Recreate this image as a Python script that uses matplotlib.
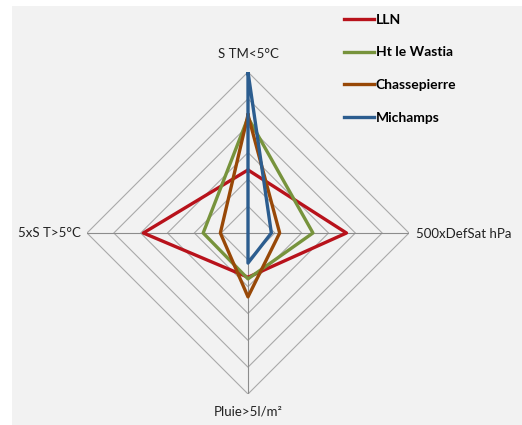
import numpy as np
import matplotlib
matplotlib.use("Agg")
import matplotlib.pyplot as plt
from matplotlib.patches import Rectangle

# categories, clockwise from the top
categories = ["S TM<5°C", "500xDefSat hPa", "Pluie>5l/m²", "5xS T>5°C"]

# (one ring = 1 unit, 6 rings)
lln = [2.35, 3.67, 1.65, 3.9]
wastia = [4.3, 2.42, 1.71, 1.67]
chassepierre = [4.4, 1.18, 2.38, 1.03]
michamps = [6.0, 0.87, 1.12, 0.0]

series_names = ["LLN", "Ht le Wastia", "Chassepierre", "Michamps"]
series_colors = ["#b8121b", "#77933c", "#984807", "#2c5d8f"]
rings = [1, 2, 3, 4, 5, 6]

plt.rcParams['font.family'] = ['Lato', 'DejaVu Sans']

W, H = 522, 425
fig = plt.figure(figsize=(W / 100, H / 100), dpi=100)
fig.patch.set_facecolor("white")
fig.patches.append(Rectangle((12 / W, 0), (W - 12) / W, (H - 6) / H,
                             transform=fig.transFigure, facecolor="#f2f2f2",
                             edgecolor="none", zorder=-5))

cx, cy, R = 248, 233, 161
ax = fig.add_axes([(cx - R) / W, (H - cy - R) / H, 2 * R / W, 2 * R / H],
                  projection="polar")
ax.set_zorder(2)
ax.set_facecolor("none")
ax.set_theta_zero_location("N")
ax.set_theta_direction(-1)
ax.set_ylim(0, 6)
ax.grid(False)
ax.spines["polar"].set_visible(False)
ax.set_xticks([])
ax.set_yticks([])

theta = np.arange(len(categories)) * 2 * np.pi / len(categories)
theta_closed = np.append(theta, theta[0])

# diamond grid and spokes
for r in rings:
    ax.plot(theta_closed, [r] * len(theta_closed), color="#a9a9a9", lw=0.8, zorder=1)
for t in theta:
    ax.plot([t, t], [0, rings[-1]], color="#8c8c8c", lw=0.8, zorder=1)

for name, vals, col in zip(series_names, [lln, wastia, chassepierre, michamps], series_colors):
    ax.plot(theta_closed, vals + vals[:1], color=col, lw=2.4, label=name, zorder=3)

# axis labels
lab = dict(fontsize=9.5, color="#222222")
fig.text(cx / W, 1 - 54 / H, categories[0], ha="center", va="center", **lab)
fig.text(416 / W, 1 - 234 / H, categories[1], ha="left", va="center", **lab)
fig.text(cx / W, 1 - 412 / H, categories[2], ha="center", va="center", **lab)
fig.text(81 / W, 1 - 233 / H, categories[3], ha="right", va="center", **lab)

fig.legend(loc="upper left", bbox_to_anchor=(338 / W, 1 - 8 / H), frameon=False,
           prop={"family": "Lato", "weight": "bold", "size": 10},
           handlelength=2.2, handletextpad=0.1, labelspacing=1.5,
           borderaxespad=0)

fig.savefig("out.png", dpi=100, facecolor=fig.get_facecolor())
